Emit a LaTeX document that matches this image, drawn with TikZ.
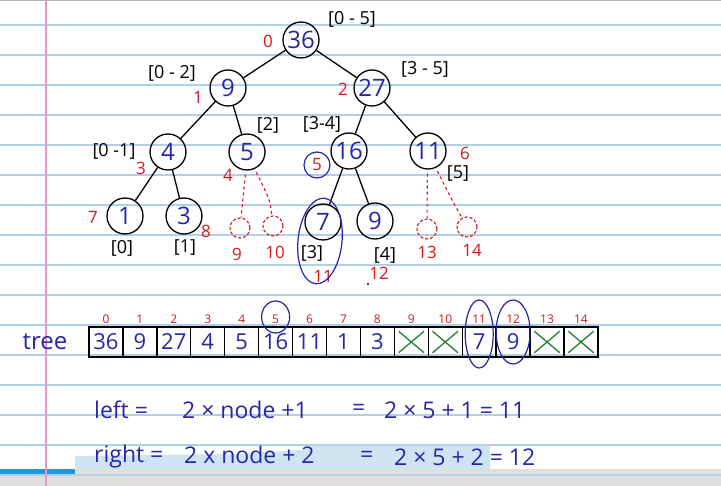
\documentclass[tikz,border=0pt]{standalone}
\usepackage{fontspec}
\setmainfont{Open Sans}
\usetikzlibrary{shapes.geometric}
\definecolor{rulec}{RGB}{178,206,232}
\definecolor{marginc}{RGB}{232,150,200}
\definecolor{ink}{RGB}{38,38,168}
\definecolor{redink}{RGB}{215,25,25}
\definecolor{greenink}{RGB}{30,130,50}
\definecolor{hilite}{RGB}{205,228,243}
\definecolor{barblue}{RGB}{30,150,225}
\definecolor{bandgray}{RGB}{222,222,222}
\tikzset{
  tnode/.style={circle,draw=black,line width=1.3pt,minimum size=36pt,inner sep=0pt,text=ink,font=\fontsize{24}{24}\selectfont},
  ghost/.style={circle,draw=redink,densely dashed,line width=1.1pt,minimum size=20pt,inner sep=0pt},
  edge/.style={line width=1.3pt,black},
  dline/.style={line width=1.1pt,redink,dashed},
  rng/.style={font=\fontsize{18}{18}\selectfont,text=black,inner sep=1pt},
  idx/.style={font=\fontsize{17}{17}\selectfont,text=redink,inner sep=1pt},
  aidx/.style={font=\fontsize{12}{12}\selectfont,text=redink,inner sep=1pt},
  cell/.style={rectangle,draw=black,line width=1.4pt,minimum width=33.93pt,minimum height=30pt,inner sep=0pt,text=ink,font=\fontsize{22}{22}\selectfont},
  cross/.style={greenink,line width=1.3pt},
  loop/.style={ink,line width=1.2pt},
  form/.style={text=ink,font=\fontsize{23}{23}\selectfont,inner sep=0pt,anchor=west}
}
\begin{document}
\begin{tikzpicture}[x=1pt,y=-1pt]
\useasboundingbox (0,0) rectangle (721,486);
\fill[white] (0,0) rectangle (721,486);
% notebook rules
\foreach \yy in {25,55,...,445} \draw[rulec,line width=1.3pt] (0,\yy) -- (721,\yy);
\draw[gray!60,line width=1.5pt] (0,0.75) -- (721,0.75);
% highlight band and player bar
\fill[hilite] (75,456) -- (150,455) -- (240,454) -- (300,450) -- (315,446) -- (490,446) -- (490,470) -- (75,470) -- cycle;
\draw[rulec,line width=1.3pt] (0,475) -- (721,475);
\fill[bandgray] (0,476) rectangle (721,486);
\fill[barblue] (0,469) rectangle (75,474);
\fill[gray!25] (75,469) rectangle (721,474);
\draw[marginc,line width=1.2pt] (46,0) -- (46,486);

% tree nodes
\node[tnode] (r36) at (301,40) {36};
\node[tnode] (n9)  at (228,88) {9};
\node[tnode] (n27) at (372,88) {27};
\node[tnode] (n4)  at (168,152) {4};
\node[tnode] (n5)  at (247,152) {5};
\node[tnode] (n16) at (349,151) {16};
\node[tnode] (n11) at (428,151) {11};
\node[tnode] (n1)  at (125,216) {1};
\node[tnode] (n3)  at (184,216) {3};
\node[tnode] (n7)  at (323,222) {7};
\node[tnode] (n9b) at (375,221) {9};
\node[ghost] (d9)  at (240,228) {};
\node[ghost] (d10) at (273,226) {};
\node[ghost] (d13) at (427,229) {};
\node[ghost] (d14) at (467,227) {};

\draw[edge] (r36) -- (n9);
\draw[edge] (r36) -- (n27);
\draw[edge] (n9) -- (n4);
\draw[edge] (n9) -- (n5);
\draw[edge] (n27) -- (n16);
\draw[edge] (n27) -- (n11);
\draw[edge] (n4) -- (n1);
\draw[edge] (n4) -- (n3);
\draw[edge] (n16) -- (n7);
\draw[edge] (n16) -- (n9b);
\draw[dline] ([yshift=-4pt]n5.265) -- (d9);
\draw[dline] ([yshift=-4pt]n5.300) .. controls (270,200) .. (d10);
\draw[dline] ([yshift=-4pt]n11.268) -- (d13);
\draw[dline] ([yshift=-4pt]n11.300) .. controls (452,200) .. (d14);

% range labels
\node[rng] (l05) at (352,19) {[0 - 5]};
\node[rng] (l02) at (172,73) {[0 - 2]};
\node[rng] (l35) at (425,69) {[3 - 5]};
\node[rng] (l01) at (114,151) {[0 -1]};
\node[rng] (l2)  at (268,125) {[2]};
\node[rng] (l34) at (322,124) {[3-4]};
\node[rng] (l5)  at (458,174) {[5]};
\node[rng] (l0)  at (122,248) {[0]};
\node[rng] (l1)  at (185,248) {[1]};
\node[rng] (l3)  at (312,253) {[3]};
\node[rng] (l4)  at (385,255) {[4]};

% red index labels
\node[idx] (t0)  at (268,41) {0};
\node[idx] (t1)  at (198,97) {1};
\node[idx] (t2)  at (343,89) {2};
\node[idx] (t3)  at (141,168) {3};
\node[idx] (t4)  at (228,175) {4};
\node[idx] (t5)  at (317,165) {5};
\node[idx] (t6)  at (465,153) {6};
\node[idx] (t7)  at (93,217) {7};
\node[idx] (t8)  at (206,231) {8};
\node[idx] (t9)  at (237,254) {9};
\node[idx] (t10) at (275,252) {10};
\node[idx] (t11) at (323,276) {11};
\node[idx] (t12) at (379,273) {12};
\node[idx] (t13) at (427,252) {13};
\node[idx] (t14) at (472,250) {14};
\fill[black] (368,284) circle (1.2pt);

% blue annotation loops on tree
\draw[loop] (317,165) circle (13pt);
\draw[loop,rotate around={-6:(320,241)}] (320,241) ellipse (22pt and 43pt);

% array
\node[text=ink,font=\fontsize{24}{24}\selectfont] (tree) at (45,342) {tree};
\foreach \v [count=\k] in {36,9,27,4,5,16,11,1,3,{},{},7,9,{},{}} {
  \pgfmathtruncatemacro{\i}{\k-1}
  \node[cell] (c\i) at ({89+33.93*(\k-0.5)},342) {\v};
  \node[aidx] (a\i) at ({89+33.93*(\k-0.5)},319) {\i};
}
\foreach \k in {9,10,13,14} {
  \draw[cross] ([shift={(5,5)}]c\k.north west) -- ([shift={(-5,-5)}]c\k.south east);
  \draw[cross] ([shift={(-5,5)}]c\k.north east) -- ([shift={(5,-5)}]c\k.south west);
}
\draw[loop] ([yshift=2pt]a5) ellipse (14pt and 16pt);
\draw[loop] ([yshift=8pt]c11) ellipse (14pt and 34pt);
\draw[loop] ([yshift=10pt]c12) ellipse (17pt and 32pt);

% formulas
\node[form] (f1a) at (94,410) {left =};
\node[form] (f1b) at (182,410) {2 × node +1};
\node[form] (f1c) at (352,410) {=};
\node[form] (f1d) at (384,410) {2 × 5 + 1 = 11};
\node[form] (f2a) at (94,457) {right =};
\node[form] (f2b) at (184,455) {2 x node + 2};
\node[form] (f2c) at (360,457) {=};
\node[form] (f2d) at (394,457) {2 × 5 + 2 = 12};
\end{tikzpicture}
\end{document}
